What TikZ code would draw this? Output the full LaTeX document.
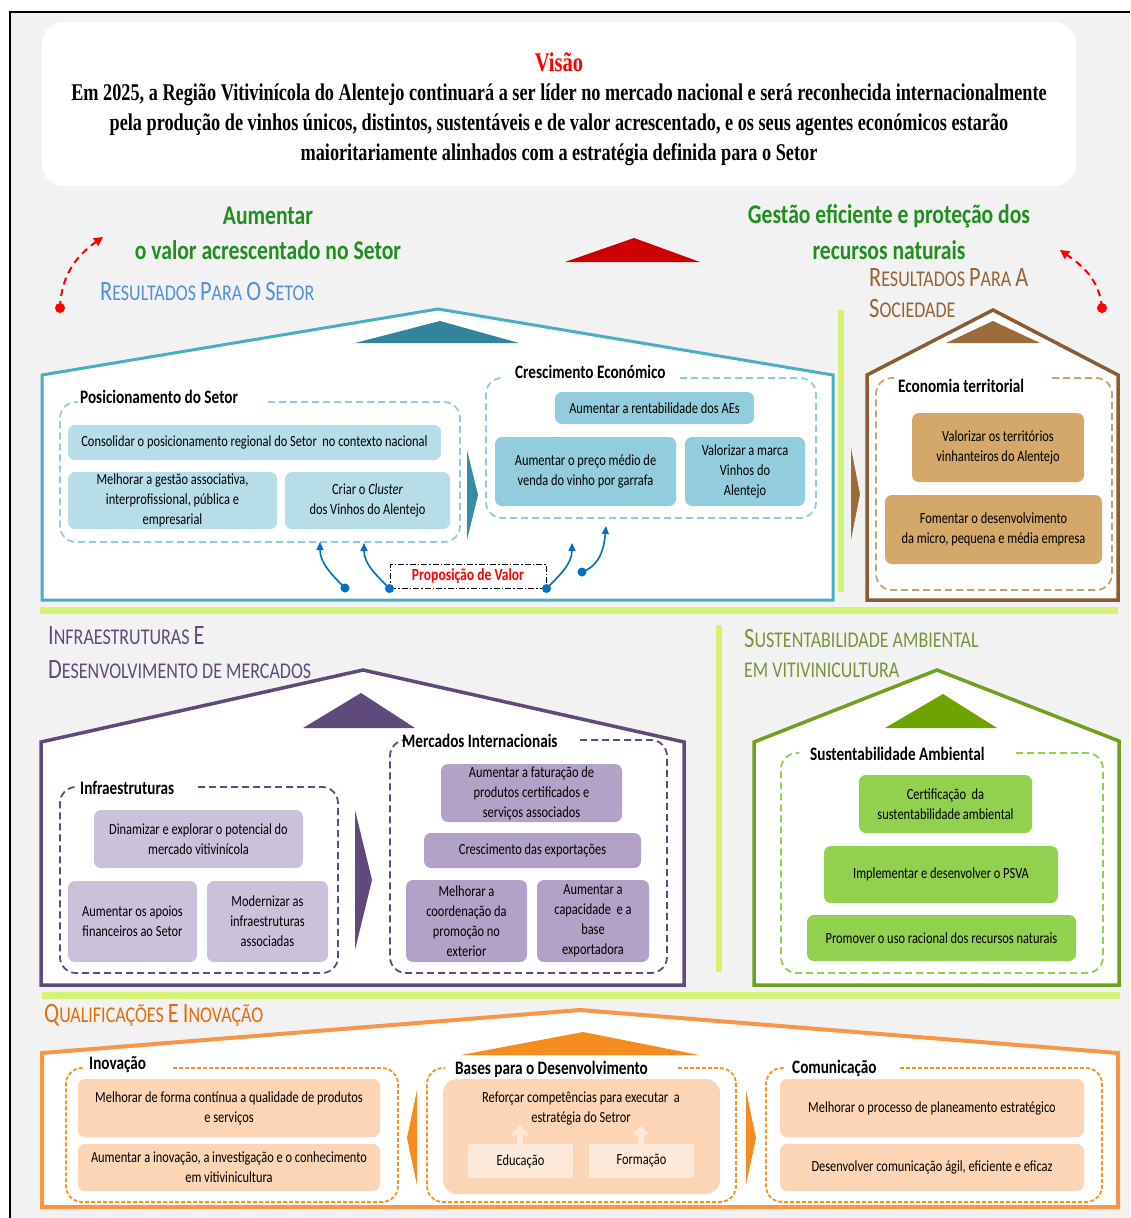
\documentclass[tikz,border=0pt]{standalone}
\usepackage{fontspec}
\setmainfont{Carlito}[FakeStretch=0.8]
\newfontfamily\visfont{Liberation Serif}[FakeStretch=0.76]
\usetikzlibrary{arrows.meta}
\definecolor{bg}{HTML}{F2F2F2}
\definecolor{hgreen}{HTML}{1F8F1F}
\definecolor{roofred}{HTML}{CC0000}
\definecolor{tealline}{HTML}{4BACC6}
\definecolor{tealdark}{HTML}{31849B}
\definecolor{tealboxa}{HTML}{B7DEE8}
\definecolor{tealboxb}{HTML}{93CDDD}
\definecolor{setorblue}{HTML}{558ED5}
\definecolor{brownline}{HTML}{8C5C30}
\definecolor{browntri}{HTML}{9C6B3A}
\definecolor{browntxt}{HTML}{946336}
\definecolor{brownbox}{HTML}{D4A76A}
\definecolor{browndash}{HTML}{C8A370}
\definecolor{purp}{HTML}{604A7B}
\definecolor{purpboxa}{HTML}{CCC1DA}
\definecolor{purpboxb}{HTML}{B3A2C7}
\definecolor{grline}{HTML}{6FA01E}
\definecolor{grtri}{HTML}{6FA300}
\definecolor{grtxt}{HTML}{77933C}
\definecolor{grbox}{HTML}{92D050}
\definecolor{orline}{HTML}{F79646}
\definecolor{ortri}{HTML}{F68B1F}
\definecolor{ortxt}{HTML}{E46C0A}
\definecolor{orbox}{HTML}{FBD5B5}
\definecolor{orlight}{HTML}{FDE9D9}
\definecolor{ordash}{HTML}{F7941D}
\definecolor{limec}{HTML}{D6F274}
\definecolor{arrowblue}{HTML}{0070C0}
\newcommand\SC[2]{{\fontsize{28}{28}\selectfont #1}{\fontsize{22.5}{28}\selectfont #2}}
\newcommand\rbox[7]{\node[bx,#6,minimum width={(#4)-(#2)},minimum height={(#5)-(#3)}] (#1) at ({(#2+#4)/2},{(#3+#5)/2}) {#7};}
\newcommand\grp[6]{\draw[grpline,#6] (#5,#2) -- (#3,#2) -- (#3,#4) -- (#1,#4) -- (#1,#2) -- ({#1+18},#2);}
\begin{document}
\begin{tikzpicture}[x=1pt,y=-1pt,
  bx/.style={rounded corners=7pt, inner sep=2pt, align=center, font=\fontsize{15.5}{20}\selectfont},
  gt/.style={anchor=west, font=\bfseries\fontsize{19}{20}\selectfont, inner sep=0pt},
  sct/.style={anchor=west, inner sep=0pt, font=\fontsize{22.5}{28}\selectfont},
  hd/.style={inner sep=0pt, text=hgreen, font=\bfseries\fontsize{27}{30}\selectfont},
  grpline/.style={line width=1.8pt, dash pattern=on 7pt off 4pt, rounded corners=16pt},
  barrow/.style={draw=arrowblue, line width=1.6pt, -{Triangle[length=8pt,width=7pt]}},
  rarrow/.style={draw=red, line width=2pt, dash pattern=on 7pt off 5pt, -{Triangle[length=9pt,width=9pt]}},
  limebar/.style={fill=limec},
  liftarrow/.style={draw=orlight, line width=6pt, -{Triangle[length=10pt,width=16pt]}}
]
\useasboundingbox (0,0) rectangle (1130,1218);
\fill[white] (0,0) rectangle (1130,1218);
\fill[bg] (10,12) rectangle (1130,1218);
\draw[black, line width=2pt] (10,1218) -- (10,12) -- (1130,12);

% Vision
\node[fill=white, rounded corners=22pt, minimum width=1034pt, minimum height=164pt, inner sep=0pt] (vbox) at (559,104) {};
\node[text=red, font=\visfont\bfseries\fontsize{27}{28}\selectfont, inner sep=0pt] (visao) at (559,62) {Visão};
\node[font=\visfont\bfseries\fontsize{24}{30}\selectfont, align=center, inner sep=0pt] (vistext) at (559,125)
 {Em 2025, a Região Vitivinícola do Alentejo continuará a ser líder no mercado nacional e será reconhecida internacionalmente\\
  pela produção de vinhos únicos, distintos, sustentáveis e de valor acrescentado, e os seus agentes económicos estarão\\
  maioritariamente alinhados com a estratégia definida para o Setor};

% headings
\node[hd] (h1a) at (268,216) {Aumentar};
\node[hd] (h1b) at (268,250) {o valor acrescentado no Setor};
\node[hd] (h2a) at (889,216) {Gestão eficiente e proteção dos};
\node[hd] (h2b) at (889,250) {recursos naturais};
\fill[roofred] (565,262) -- (634,238) -- (700,262) -- cycle;

% red arcs
\coordinate (rdl) at (60,308); \coordinate (rtl) at (103,237);
\coordinate (rdr) at (1102,308); \coordinate (rtr) at (1060,250);
\draw[rarrow] (rdl) to[out=88,in=215] (rtl);
\draw[rarrow] (rdr) to[out=95,in=-35] (rtr);
\fill[red] (rdl) circle (5pt);
\fill[red] (rdr) circle (5pt);

\node[sct, text=setorblue] (rsetor) at (100,292) {\SC{R}{ESULTADOS} \SC{P}{ARA} \SC{O}{} \SC{S}{ETOR}};
\node[sct, text=browntxt] (rsoc1) at (869,278) {\SC{R}{ESULTADOS} \SC{P}{ARA} \SC{A}{}};
\node[sct, text=browntxt] (rsoc2) at (869,309) {\SC{S}{OCIEDADE}};

% separators
\fill[limebar] (838,310) rectangle (844,592);
\fill[limebar] (40,607) rectangle (1118,614);
\fill[limebar] (716,625) rectangle (722,972);
\fill[limebar] (42,992) rectangle (1120,999);

% ===== teal house
\draw[tealline, line width=3pt, fill=white] (42,375) -- (438,309) -- (833,375) -- (833,600) -- (42,600) -- cycle;
\fill[tealdark] (355,343) -- (440,321) -- (519,343) -- cycle;
\grp{60}{402}{460}{542}{268}{tealboxb}
\grp{486}{378}{816}{518}{680}{tealboxb}
\node[gt] (tpos) at (80,397) {Posicionamento do Setor};
\node[gt] (tcre) at (515,372) {Crescimento Económico};
\rbox{cons}{68}{425}{441}{460}{fill=tealboxa}{Consolidar o posicionamento regional do Setor\ \ no contexto nacional}
\rbox{melh}{68}{472}{277}{529}{fill=tealboxa}{Melhorar a gestão associativa,\\interprofissional, pública e\\empresarial}
\rbox{clus}{285}{472}{450}{529}{fill=tealboxa}{Criar o \textit{Cluster}\\dos Vinhos do Alentejo}
\rbox{rent}{555}{392}{754}{424}{fill=tealboxb}{Aumentar a rentabilidade dos AEs}
\rbox{preco}{495}{437}{676}{506}{fill=tealboxb}{Aumentar o preço médio de\\venda do vinho por garrafa}
\rbox{marca}{685}{437}{805}{506}{fill=tealboxb}{Valorizar a marca\\Vinhos do\\Alentejo}
\fill[tealdark!80!tealline] (467,450) -- (478,495) -- (467,540) -- cycle;
\node[draw=black, line width=1pt, dash pattern=on 6pt off 2pt on 1.5pt off 2pt, minimum width=156pt, minimum height=24pt, inner sep=0pt,
  text=red, font=\bfseries\fontsize{17}{18}\selectfont] (prop) at (468,576) {Proposição de Valor};
\coordinate (d1) at (345,588); \coordinate (t1) at (320,542);
\coordinate (d2) at (prop.south west); \coordinate (t2) at (364,543);
\coordinate (d3) at (prop.south east); \coordinate (t3) at (572,543);
\coordinate (d4) at (582,572); \coordinate (t4) at (606,526);
\draw[barrow] (d1) to[out=135,in=-90] (t1);
\draw[barrow] (d2) to[out=135,in=-90] (t2);
\draw[barrow] (d3) to[out=45,in=-90] (t3);
\draw[barrow] (d4) to[out=20,in=-95] (t4);
\foreach \d in {d1,d2,d3,d4} \fill[arrowblue] (\d) circle (4.5pt);

% ===== brown house
\draw[brownline, line width=3.5pt, fill=white] (867,375) -- (993,310) -- (1118,375) -- (1118,600) -- (867,600) -- cycle;
\fill[browntri] (946,343) -- (993,321) -- (1040,343) -- cycle;
\grp{876}{378}{1112}{590}{1052}{browndash}
\node[gt] (teco) at (898,386) {Economia territorial};
\rbox{terr}{912}{413}{1084}{482}{fill=brownbox}{Valorizar os territórios\\vinhanteiros do Alentejo}
\rbox{fome}{885}{495}{1102}{564}{fill=brownbox}{Fomentar o desenvolvimento\\da micro, pequena e média empresa}
\fill[browntri] (851,448) -- (860,494) -- (851,540) -- cycle;

% ===== purple house
\node[sct, text=purp] (tinf1) at (48,636) {\SC{I}{NFRAESTRUTURAS} \SC{E}{}};
\node[sct, text=purp] (tinf2) at (48,670) {\SC{D}{ESENVOLVIMENTO DE MERCADOS}};
\draw[purp, line width=3.5pt, fill=white] (41,742) -- (363,670) -- (684,742) -- (684,985) -- (41,985) -- cycle;
\fill[purp] (303,728) -- (361,693) -- (415,728) -- cycle;
\grp{60}{787}{338}{973}{198}{purp}
\grp{390}{740}{667}{973}{580}{purp}
\node[gt] (tinfra) at (80,788) {Infraestruturas};
\node[gt] (tmerc) at (402,741) {Mercados Internacionais};
\rbox{dina}{94}{810}{303}{868}{fill=purpboxa}{Dinamizar e explorar o potencial do\\mercado vitivinícola}
\rbox{apoi}{68}{881}{197}{962}{fill=purpboxa}{Aumentar os apoios\\financeiros ao Setor}
\rbox{mode}{207}{881}{328}{962}{fill=purpboxa}{Modernizar as\\infraestruturas\\associadas}
\rbox{fatu}{441}{764}{622}{822}{fill=purpboxb}{Aumentar a faturação de\\produtos certificados e\\serviços associados}
\rbox{expo}{424}{833}{641}{868}{fill=purpboxb}{Crescimento das exportações}
\rbox{coor}{406}{880}{527}{962}{fill=purpboxb}{Melhorar a\\coordenação da\\promoção no\\exterior}
\rbox{capa}{537}{880}{649}{962}{fill=purpboxb}{Aumentar a\\capacidade\ \ e a\\base\\exportadora}
\fill[purp] (355,810) -- (372,880) -- (355,950) -- cycle;

% ===== green house
\node[sct, text=grtxt] (tsus1) at (744,639) {\SC{S}{USTENTABILIDADE AMBIENTAL}};
\node[sct, text=grtxt] (tsus2) at (744,670) {\SC{}{EM VITIVINICULTURA}};
\draw[grline, line width=3.5pt, fill=white] (754,742) -- (937,670) -- (1119,741) -- (1119,985) -- (754,985) -- cycle;
\fill[grtri] (885,728) -- (943,694) -- (997,728) -- cycle;
\grp{781}{753}{1103}{973}{1016}{grbox}
\node[gt] (tsust) at (810,754) {Sustentabilidade Ambiental};
\rbox{cert}{859}{775}{1032}{833}{fill=grbox}{Certificação\ \ da\\sustentabilidade ambiental}
\rbox{psva}{824}{846}{1058}{903}{fill=grbox}{Implementar e desenvolver o PSVA}
\rbox{prom}{807}{915}{1076}{961}{fill=grbox}{Promover o uso racional dos recursos naturais}

% ===== orange house
\node[sct, text=ortxt] (tqual) at (44,1015) {\SC{Q}{UALIFICAÇÕES} \SC{E}{} \SC{I}{NOVAÇÃO}};
\draw[orline, line width=4pt, fill=white] (42,1053) -- (580,1010) -- (1118,1053) -- (1118,1207) -- (42,1207) -- cycle;
\fill[ortri] (461,1055) -- (583,1032) -- (699,1055) -- cycle;
\grp{66}{1068}{398}{1202}{173}{ordash,dash pattern=on 4pt off 2pt}
\grp{427}{1068}{736}{1202}{678}{ordash,dash pattern=on 4pt off 2pt}
\grp{766}{1068}{1102}{1202}{900}{ordash,dash pattern=on 4pt off 2pt}
\node[gt] (tinov) at (89,1065) {Inovação};
\node[gt] (tbase) at (455,1069) {Bases para o Desenvolvimento};
\node[gt] (tcom) at (792,1068) {Comunicação};
\rbox{qual}{78}{1079}{380}{1137}{fill=orbox}{Melhorar de forma contínua a qualidade de produtos\\e serviços}
\rbox{inov}{78}{1144}{380}{1191}{fill=orbox}{Aumentar a inovação, a investigação e o conhecimento\\em vitivinicultura}
\rbox{refo}{443}{1079}{720}{1194}{fill=orbox,rounded corners=14pt}{}
\node[align=center, font=\fontsize{15.5}{20}\selectfont, inner sep=0pt] (refot) at (581,1108) {Reforçar competências para executar\ \ a\\estratégia do Setror};
\rbox{educ}{468}{1144}{573}{1178}{fill=orlight,rounded corners=0pt}{Educação}
\rbox{form}{589}{1144}{694}{1178}{fill=orlight,rounded corners=0pt}{Formação}
\coordinate (ea) at (520,1125); \coordinate (fa) at (641,1125);
\draw[liftarrow] (educ.north -| ea) -- (ea);
\draw[liftarrow] (form.north -| fa) -- (fa);
\rbox{plan}{780}{1079}{1084}{1137}{fill=orbox}{Melhorar o processo de planeamento estratégico}
\rbox{comu}{780}{1144}{1084}{1191}{fill=orbox}{Desenvolver comunicação ágil, eficiente e eficaz}
\fill[ortri] (417,1090) -- (407,1138) -- (417,1185) -- cycle;
\fill[ortri] (746,1090) -- (756,1138) -- (746,1185) -- cycle;
\end{tikzpicture}
\end{document}
